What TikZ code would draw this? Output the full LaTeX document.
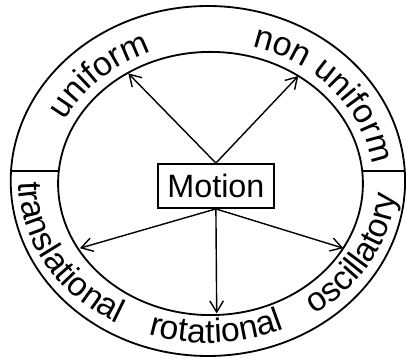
\documentclass[tikz,border=0pt]{standalone}
\usepackage{fontspec}
\setmainfont{Liberation Sans}
\usetikzlibrary{arrows.meta,positioning,decorations.text}
\newcommand{\ringfont}{\fontsize{24}{28}\selectfont}
\newcommand{\boxfont}{\fontsize{23}{27}\selectfont}

\begin{document}
\begin{tikzpicture}[
  font=\boxfont,
  ring/.style={line width=1.3pt},
  box/.style={draw, line width=1.3pt, minimum width=2.9cm, minimum height=1.1cm,
    inner sep=0pt},
  arr/.style={-{Straight Barb[length=2.8mm,width=3.4mm]}, line width=1pt},
  lbl/.style={decorate, decoration={text along path, text align=center,
    text={|\ringfont|#1}}},
]
  \useasboundingbox (-5.1875,-4.425) rectangle (4.9625,4.525);

  % the two rings and the bars between them
  \draw[ring] (0.01,0) ellipse [x radius=4.93, y radius=4.375];
  \draw[ring] (0.075,-0.0625) ellipse [x radius=3.81, y radius=3.29];
  \draw[ring] (-4.92,0.24) -- (-3.72,0.24);
  \draw[ring] (3.87,0.24) -- (4.94,0.24);

  \node[box] (motion) at (0.21,-0.125) {Motion};

  \coordinate (uni) at (-1.98,2.69);
  \coordinate (nonuni) at (2.27,2.625);
  \coordinate (trans) at (-3.19,-1.68);
  \coordinate (rot) at (0.23,-3.31);
  \coordinate (osc) at (3.395,-1.68);

  \draw[arr] (motion.north) -- (uni);
  \draw[arr] (motion.north) -- (nonuni);
  \draw[arr] (motion.south) -- (trans);
  \draw[arr] (motion.south) -- (rot);
  \draw[arr] (motion.south) -- (osc);

  % labels round the ring
  \begin{scope}[shift={(0.075,-0.0625)}]
    \path[lbl=uniform] (181:4.07 and 3.53)
      arc[start angle=181, end angle=87, x radius=4.07, y radius=3.53];
    \path[lbl=non uniform] (95:4.07 and 3.53)
      arc[start angle=95, end angle=-15, x radius=4.07, y radius=3.53];
  \end{scope}
  \path[lbl=translational] (165:4.72 and 4.05)
    arc[start angle=165, end angle=255, x radius=4.72, y radius=4.05];
  \path[lbl=rotational] (228:4.72 and 4.05)
    arc[start angle=228, end angle=318, x radius=4.72, y radius=4.05];
  \path[lbl=oscillatory] (286:4.72 and 4.05)
    arc[start angle=286, end angle=376, x radius=4.72, y radius=4.05];
\end{tikzpicture}
\end{document}
